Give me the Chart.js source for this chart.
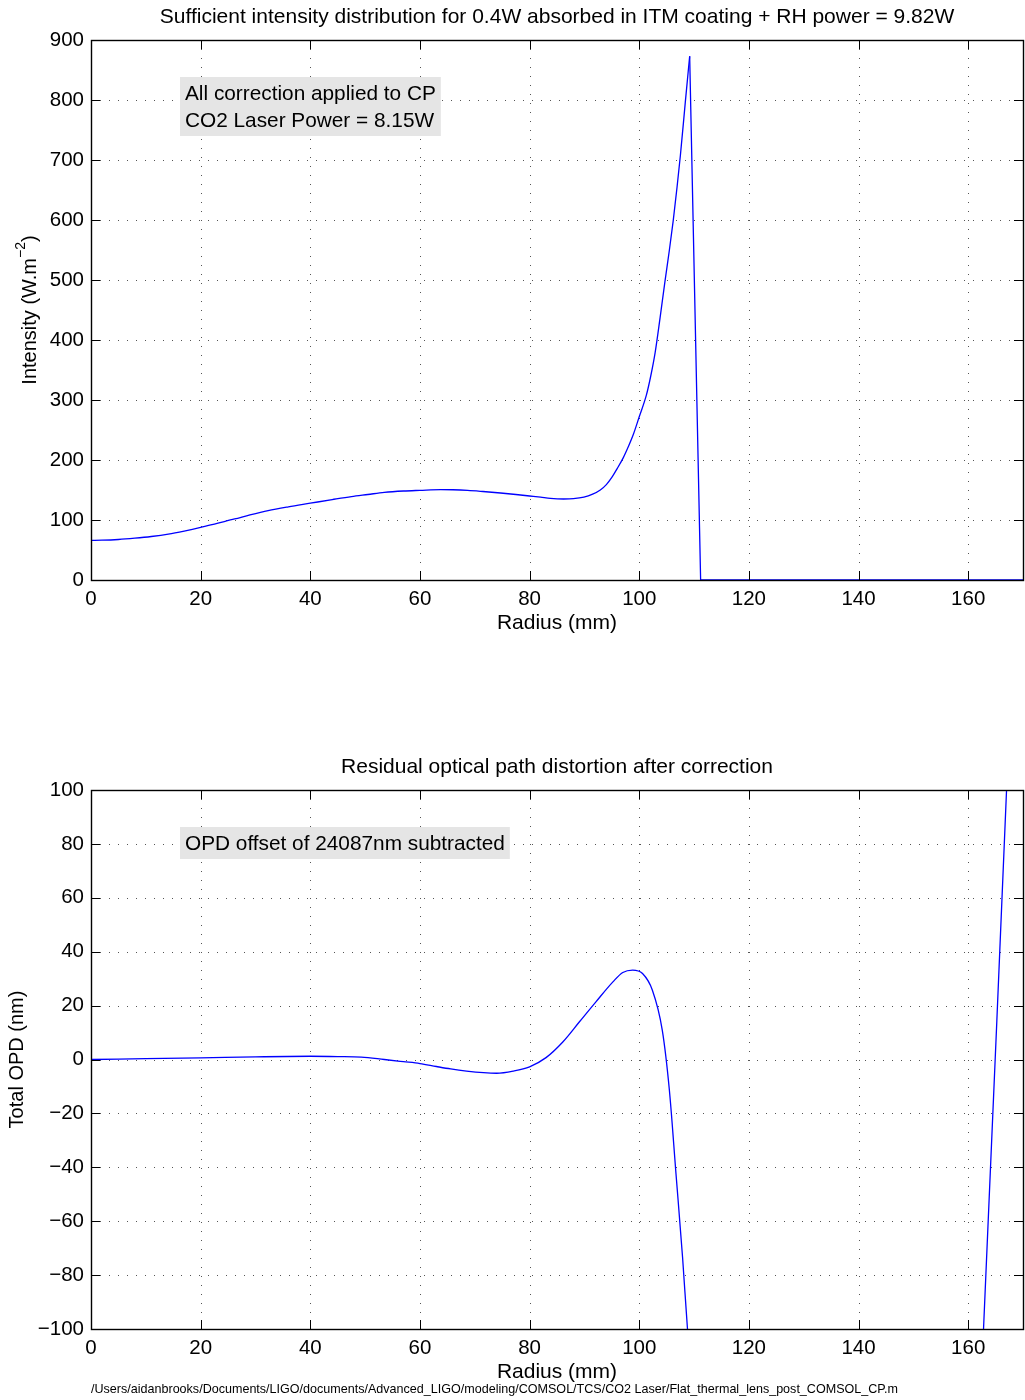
<!DOCTYPE html>
<html>
<head>
<meta charset="utf-8">
<script src="https://cdn.jsdelivr.net/npm/chart.js@4.4.1/dist/chart.umd.min.js"></script>
<style>
  body { margin: 0; background: #fff; }
  .wrap { position: relative; width: 1025px; height: 1400px; }
  canvas { position: absolute; left: 0; }
  #intensityChart { top: 0; }
  #opdChart { top: 650px; }
</style>
</head>
<body>
<div class="wrap">
  <canvas id="intensityChart" width="1025" height="650"></canvas>
  <canvas id="opdChart" width="1025" height="750"></canvas>
</div>
<script>
// top plot: CO2 laser intensity vs radius
const radiusIntensity = [0, 2, 5, 8, 11, 14.1, 17, 20, 23, 26.2, 29, 32.3, 36, 40, 44, 47.5, 50.5, 53.5, 57, 60, 63.8, 66, 68.7, 71.5, 74.7, 77.5, 80, 82, 83.8, 86.2, 88, 89.9, 91.5, 92.9, 94, 95, 96, 97.1, 98, 98.9, 100, 101.3, 102.1, 102.9, 103.8, 104.7, 105.5, 106.2, 106.9, 107.5, 108.4, 109.2, 111.2, 170];
const intensity = [66, 66.3, 67.5, 69.7, 72.5, 76.4, 81.5, 87.6, 94.5, 101.7, 108.5, 115.7, 122, 128, 134, 139, 142.5, 146, 148.3, 149.4, 150.6, 150.4, 149.4, 147.5, 145, 142.5, 140, 138, 136, 135, 135.5, 138, 143, 150, 159, 171, 186, 204, 222, 242, 272, 308, 340, 379, 437, 498, 550, 599, 655, 707, 796, 873, 0, 0];

// bottom plot: residual OPD vs radius
const radiusOpd = [0, 10, 20, 30, 40, 45, 49.3, 53.5, 57, 60, 63, 65.6, 68.5, 71.6, 74, 77, 80, 83, 86.1, 89.1, 92.1, 95.2, 97, 98.8, 100.6, 102.4, 104.2, 105.5, 106.7, 107.9, 108.8, 110, 115, 130, 150, 160, 162.8, 167, 170];
const opd = [0, 0.3, 0.6, 1.0, 1.2, 1.1, 0.9, 0, -0.8, -1.5, -2.6, -3.5, -4.3, -4.9, -5.1, -4.3, -2.7, 0.7, 6.6, 14, 21.4, 28.8, 32.3, 33.2, 31.9, 25.7, 10.9, -11.4, -42.3, -73.3, -100, -130, -250, -400, -350, -200, -100, 100, 230];

const radiusTicks = [0, 20, 40, 60, 80, 100, 120, 140, 160];
const intensityTicks = [0, 100, 200, 300, 400, 500, 600, 700, 800, 900];
const opdTicks = [-100, -80, -60, -40, -20, 0, 20, 40, 60, 80, 100];

const FONT = '"Liberation Sans", Arial, Helvetica, sans-serif';

function strokeLine(ctx, x1, y1, x2, y2) {
  ctx.beginPath();
  ctx.moveTo(x1, y1);
  ctx.lineTo(x2, y2);
  ctx.stroke();
}

function points(xs, ys, from, to) {
  const out = [];
  for (let i = from; i <= to; i++) out.push({ x: xs[i], y: ys[i] });
  return out;
}

// matlab-ish frame: dotted grid, box, inward ticks, text
const matlabFrame = {
  id: 'matlabFrame',
  beforeDatasetsDraw(chart) {
    const { ctx, chartArea: a, scales: { x, y } } = chart;
    ctx.save();
    ctx.strokeStyle = '#555';
    ctx.lineWidth = 1;
    ctx.setLineDash([1, 8]);
    x.ticks.forEach(t => {
      const px = Math.round(x.getPixelForValue(t.value)) + 0.5;
      if (px < a.left + 2 || px > a.right - 2) return;
      strokeLine(ctx, px, a.top, px, a.bottom);
    });
    y.ticks.forEach(t => {
      const py = Math.round(y.getPixelForValue(t.value)) + 0.5;
      if (py < a.top + 2 || py > a.bottom - 2) return;
      strokeLine(ctx, a.left, py, a.right, py);
    });
    ctx.restore();
  },
  afterDatasetsDraw(chart, args, opts) {
    const { ctx, chartArea: a, scales: { x, y } } = chart;
    ctx.save();
    ctx.strokeStyle = '#000';
    ctx.lineWidth = 1;
    const tl = 9;
    x.ticks.forEach(t => {
      const px = Math.round(x.getPixelForValue(t.value)) + 0.5;
      strokeLine(ctx, px, a.bottom, px, a.bottom - tl);
      strokeLine(ctx, px, a.top, px, a.top + tl);
    });
    y.ticks.forEach(t => {
      const py = Math.round(y.getPixelForValue(t.value)) + 0.5;
      strokeLine(ctx, a.left, py, a.left + tl, py);
      strokeLine(ctx, a.right, py, a.right - tl, py);
    });
    ctx.lineWidth = 1.4;
    ctx.strokeRect(Math.round(a.left) + 0.5, Math.round(a.top) + 0.5, Math.round(a.right - a.left), Math.round(a.bottom - a.top));

    // annotation box
    if (opts.notes) {
      ctx.font = '20.8px ' + FONT;
      const w = Math.max(...opts.notes.map(s => ctx.measureText(s).width)) + 10;
      const bx = a.left + 89, by = a.top + 37;
      ctx.fillStyle = '#e5e5e5';
      ctx.fillRect(bx, by, w, opts.notes.length * 27 + 5);
      ctx.fillStyle = '#000';
      ctx.textBaseline = 'middle';
      ctx.textAlign = 'left';
      opts.notes.forEach((s, i) => ctx.fillText(s, bx + 5, by + 17 + i * 27));
    }
    ctx.restore();
  },
  afterDraw(chart, args, opts) {
    const { ctx, chartArea: a } = chart;
    const cx = (a.left + a.right) / 2;
    ctx.save();
    ctx.fillStyle = '#000';
    ctx.textAlign = 'center';
    ctx.textBaseline = 'middle';
    ctx.font = '21px ' + FONT;
    ctx.fillText(opts.title, cx, a.top - 23);
    ctx.fillText('Radius (mm)', cx, a.bottom + 43);

    // y label, rotated, optional superscript
    ctx.translate(opts.yTitleX, (a.top + a.bottom) / 2);
    ctx.rotate(-Math.PI / 2);
    ctx.textAlign = 'left';
    const main = opts.yTitle, sup = opts.yTitleSup || '', tail = opts.yTitleTail || '';
    ctx.font = '20px ' + FONT;
    const w1 = ctx.measureText(main).width, w3 = ctx.measureText(tail).width;
    ctx.font = '14px ' + FONT;
    const w2 = ctx.measureText(sup).width;
    let sx = -(w1 + w2 + w3) / 2;
    ctx.font = '20px ' + FONT;
    ctx.fillText(main, sx, 0);
    sx += w1;
    if (sup) {
      ctx.font = '14px ' + FONT;
      ctx.fillText(sup, sx, -9);
      sx += w2;
      ctx.font = '20px ' + FONT;
    }
    ctx.fillText(tail, sx, 0);
    ctx.restore();

    if (opts.footer) {
      ctx.save();
      ctx.fillStyle = '#000';
      ctx.textBaseline = 'middle';
      ctx.font = '13px ' + FONT;
      const fw = ctx.measureText(opts.footer).width;
      ctx.translate(a.left, a.bottom + 60);
      ctx.scale(807 / fw, 1);
      ctx.fillText(opts.footer, 0, 0);
      ctx.restore();
    }
  }
};

function lineSet(data, smooth) {
  return {
    data,
    borderColor: '#0000ff',
    borderWidth: 1.3,
    pointRadius: 0,
    cubicInterpolationMode: smooth ? 'monotone' : 'default',
    tension: 0,
    fill: false
  };
}

function makeChart(id, datasets, yTicks, yMin, yMax, padTop, xHeight, frame) {
  return new Chart(document.getElementById(id), {
    type: 'line',
    data: { datasets },
    options: {
      responsive: false,
      animation: false,
      layout: { padding: { top: padTop, right: 2, left: 0, bottom: 0 } },
      plugins: {
        legend: { display: false },
        tooltip: { enabled: false },
        matlabFrame: frame
      },
      scales: {
        x: {
          type: 'linear',
          min: 0,
          max: 170,
          afterBuildTicks: s => { s.ticks = radiusTicks.map(v => ({ value: v })); },
          afterFit: s => { s.height = xHeight; },
          grid: { display: false, drawTicks: false },
          border: { display: false },
          ticks: { color: '#000', font: { family: FONT, size: 20.5 }, padding: 7, maxRotation: 0, autoSkip: false }
        },
        y: {
          type: 'linear',
          min: yMin,
          max: yMax,
          afterBuildTicks: s => { s.ticks = yTicks.map(v => ({ value: v })); },
          afterFit: s => { s.width = 91; },
          grid: { display: false, drawTicks: false },
          border: { display: false },
          ticks: {
            color: '#000',
            font: { family: FONT, size: 20.5 },
            padding: 7,
            callback: v => String(v).replace('-', '\u2212')
          }
        }
      }
    },
    plugins: [matlabFrame]
  });
}

// smooth rise up to the peak, straight drop after it
const peak = intensity.indexOf(Math.max(...intensity));
makeChart('intensityChart', [
  lineSet(points(radiusIntensity, intensity, 0, peak), true),
  lineSet(points(radiusIntensity, intensity, peak, intensity.length - 1), false)
], intensityTicks, 0, 900, 40, 70, {
  title: 'Sufficient intensity distribution for 0.4W absorbed in ITM coating + RH power = 9.82W',
  yTitle: 'Intensity (W.m',
  yTitleSup: '\u22122',
  yTitleTail: ')',
  yTitleX: 30,
  notes: ['All correction applied to CP', 'CO2 Laser Power = 8.15W']
});

makeChart('opdChart', [
  lineSet(points(radiusOpd, opd, 0, opd.length - 1), true)
], opdTicks, -100, 100, 140, 71, {
  title: 'Residual optical path distortion after correction',
  yTitle: 'Total OPD (nm)',
  yTitleX: 17,
  notes: ['OPD offset of 24087nm subtracted'],
  footer: '/Users/aidanbrooks/Documents/LIGO/documents/Advanced_LIGO/modeling/COMSOL/TCS/CO2 Laser/Flat_thermal_lens_post_COMSOL_CP.m'
});
</script>
</body>
</html>
